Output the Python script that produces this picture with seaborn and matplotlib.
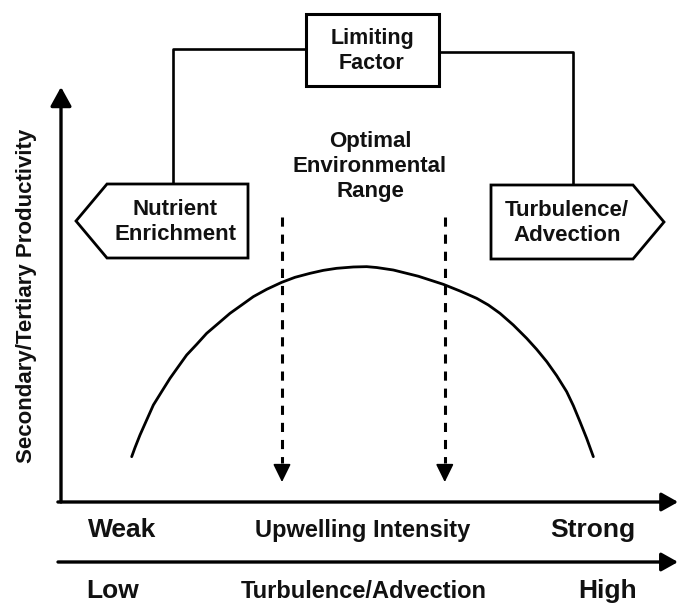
import numpy as np
import pandas as pd
import seaborn as sns
import matplotlib
matplotlib.use("Agg")
import matplotlib.pyplot as plt
from matplotlib.patches import Polygon, Rectangle

# ---- data (conceptual curve) ----
intensity = [11.42, 11.95, 12.76, 13.84, 14.92, 16.26, 17.61, 18.95, 20.30, 21.92,
             23.53, 25.42, 27.30, 29.19, 31.07, 33.23, 35.65, 37.80, 40.23, 42.38,
             44.53, 47.23, 49.38, 51.00, 53.69, 57.73, 61.77, 64.46, 67.15, 69.04,
             70.92, 73.07, 75.23, 76.84, 78.48, 80.08, 81.69, 82.77, 83.84, 84.92,
             86.00]
productivity = [10.92, 13.09, 16.14, 19.76, 23.37, 26.59, 29.80, 32.61, 35.42, 37.99,
                40.64, 43.05, 45.46, 47.47, 49.48, 51.25, 52.93, 54.14, 55.10, 55.82,
                56.31, 56.63, 56.71, 56.50, 55.90, 54.40, 52.45, 50.84, 49.08, 47.47,
                45.46, 42.65, 39.44, 36.79, 33.81, 30.44, 26.59, 23.21, 19.36, 15.34,
                10.92]
optimal_range = [35.7, 62.0]
optimal_top = 68.7
x_labels_upwelling = ["Weak", "Upwelling Intensity", "Strong"]
x_labels_turbulence = ["Low", "Turbulence/Advection", "High"]
y_label = "Secondary/Tertiary Productivity"
limiting_factor = "Limiting\nFactor"
optimal_text = "Optimal\nEnvironmental\nRange"
left_factor = "Nutrient\nEnrichment"
right_factor = "Turbulence/\nAdvection"

sns.set_theme(style="white")
plt.rcParams['font.family'] = ['Liberation Sans', 'DejaVu Sans']
plt.rcParams['font.weight'] = 'bold'

W, H = 680, 605
fig = plt.figure(figsize=(W / 100, H / 100), dpi=100)
fig.patch.set_facecolor("white")

# main data axes (origin at axis corner)
L, R, B, T = 61, 680, 502, 87
ax = fig.add_axes([L / W, (H - B) / H, (R - L) / W, (B - T) / H])
ax.set_xlim(0, 100)
ax.set_ylim(0, 100)
ax.axis("off")

df = pd.DataFrame({"intensity": intensity, "productivity": productivity})
sns.lineplot(data=df, x="intensity", y="productivity", ax=ax, color="black",
             lw=2.0, estimator=None, sort=False, legend=False)
for ln in ax.lines:
    ln.set_solid_joinstyle("round")
    ln.set_solid_capstyle("round")

# dashed arrows bounding the optimal range
for xv in optimal_range:
    ax.plot([xv, xv], [optimal_top, 9.5], color="black", lw=2.2,
            linestyle=(0, (3.0, 2.6)), solid_capstyle="butt")
    ax.annotate("", xy=(xv, 4.8), xytext=(xv, 9.0),
                arrowprops=dict(arrowstyle="-|>,head_length=0.55,head_width=0.27",
                                mutation_scale=20, color="black", lw=1.3,
                                shrinkA=0, shrinkB=0))

# axis arrows
ax.annotate("", xy=(0, 1.0), xytext=(0, 0), xycoords="axes fraction",
            arrowprops=dict(arrowstyle="-|>,head_length=0.58,head_width=0.32",
                            mutation_scale=20, color="black", lw=2.4,
                            shrinkA=0, shrinkB=0), annotation_clip=False)
ax.annotate("", xy=(0.997, 0), xytext=(-0.005, 0), xycoords="axes fraction",
            arrowprops=dict(arrowstyle="-|>,head_length=0.5,head_width=0.28",
                            mutation_scale=20, color="black", lw=2.4,
                            shrinkA=0, shrinkB=0), annotation_clip=False)

# overlay axes in pixel units for diagram annotations
ov = fig.add_axes([0, 0, 1, 1], facecolor="none")
ov.set_xlim(0, W)
ov.set_ylim(H, 0)
ov.axis("off")

# second (turbulence) arrow
ov.annotate("", xy=(678, 562), xytext=(58, 562),
            arrowprops=dict(arrowstyle="-|>,head_length=0.5,head_width=0.28",
                            mutation_scale=20, color="black", lw=2.4,
                            shrinkA=0, shrinkB=0))

tc = "#111111"
# axis labels
ov.text(122, 530, x_labels_upwelling[0], ha="center", va="center", fontsize=19, color=tc, fontweight="bold")
ov.text(363, 530, x_labels_upwelling[1], ha="center", va="center", fontsize=17, color=tc, fontweight="bold")
ov.text(593, 530, x_labels_upwelling[2], ha="center", va="center", fontsize=19, color=tc, fontweight="bold")
ov.text(113, 591, x_labels_turbulence[0], ha="center", va="center", fontsize=19, color=tc, fontweight="bold")
ov.text(364, 591, x_labels_turbulence[1], ha="center", va="center", fontsize=17, color=tc, fontweight="bold")
ov.text(608, 591, x_labels_turbulence[2], ha="center", va="center", fontsize=19, color=tc, fontweight="bold")
ov.text(27, 296, y_label, ha="center", va="center", rotation=90, fontsize=16, color=tc, fontweight="bold")

# Limiting factor box and connectors
ov.add_patch(Rectangle((306, 14), 133, 72, fill=True, facecolor="white",
                       edgecolor="black", lw=2.2, zorder=3))
ov.text(372, 51, limiting_factor, ha="center", va="center", fontsize=15.5,
        color=tc, fontweight="bold", linespacing=1.3, zorder=4)
ov.plot([306, 173, 173], [49, 49, 184], color="black", lw=1.9, zorder=2)
ov.plot([439, 573, 573], [52, 52, 185], color="black", lw=1.9, zorder=2)

# pentagon boxes
ov.add_patch(Polygon([(76, 221), (107, 184), (248, 184), (248, 258), (107, 258)],
                     closed=True, facecolor="white", edgecolor="black", lw=2.0, zorder=3))
ov.text(175, 222, left_factor, ha="center", va="center", fontsize=16,
        color=tc, fontweight="bold", linespacing=1.25, zorder=4)
ov.add_patch(Polygon([(491, 185), (633, 185), (664, 222), (633, 259), (491, 259)],
                     closed=True, facecolor="white", edgecolor="black", lw=2.0, zorder=3))
ov.text(567, 223, right_factor, ha="center", va="center", fontsize=16,
        color=tc, fontweight="bold", linespacing=1.25, zorder=4)

# optimal range text
ov.text(370, 166, optimal_text, ha="center", va="center", fontsize=16,
        color=tc, fontweight="bold", linespacing=1.25)

fig.savefig("out.png", dpi=100, facecolor="white")
